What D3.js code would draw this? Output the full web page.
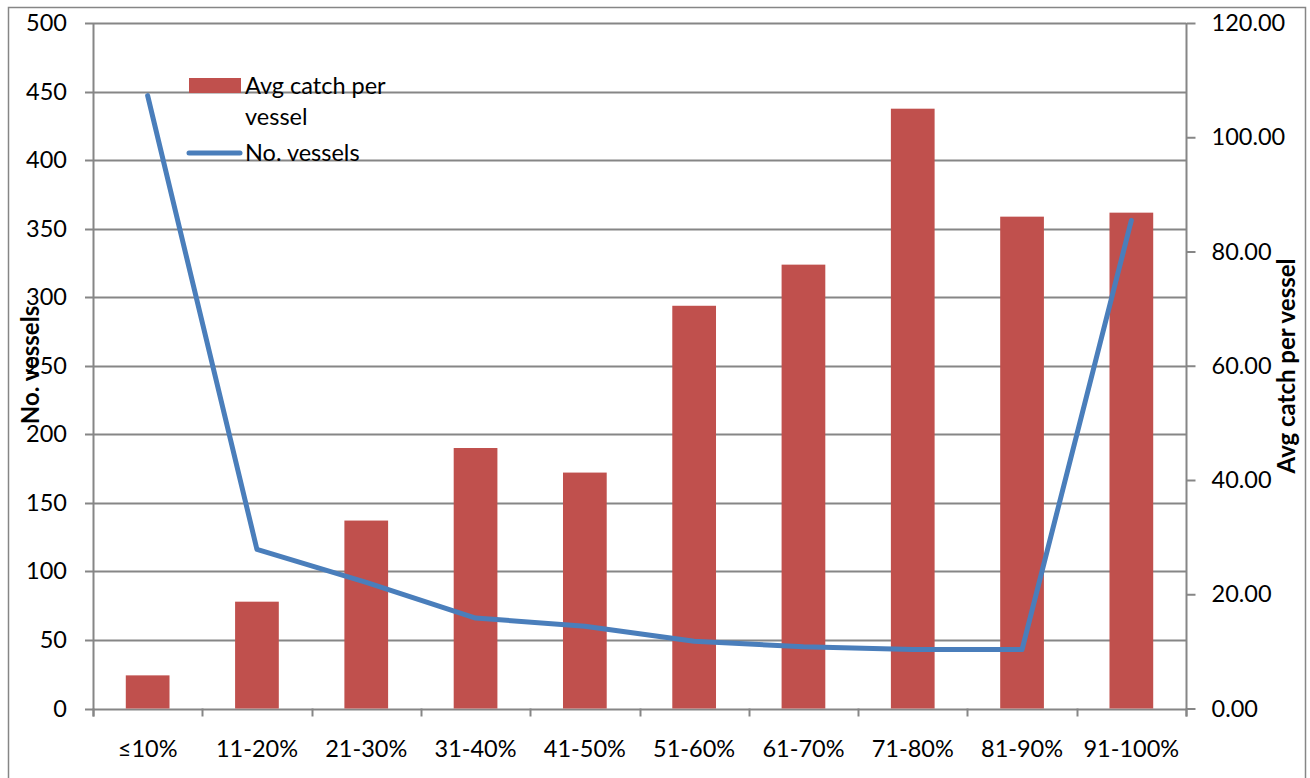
<!DOCTYPE html>
<html>
<head>
<meta charset="utf-8">
<script src="https://cdn.jsdelivr.net/npm/d3@7/dist/d3.min.js"></script>
<style>
  html, body { margin: 0; padding: 0; background: #fff; }
  svg { display: block; font-family: Lato, "Open Sans", sans-serif; }
</style>
</head>
<body>
<svg id="chart" width="1310" height="778"></svg>
<script>
// Fishing effort bands
const categories = ["≤10%", "11-20%", "21-30%", "31-40%", "41-50%", "51-60%", "61-70%", "71-80%", "81-90%", "91-100%"];
// Average catch per vessel (right axis, bars)
const avgCatch = [5.8, 18.7, 32.9, 45.6, 41.3, 70.5, 77.7, 105.0, 86.1, 86.8];
// Number of vessels (left axis, line)
const vessels = [447, 116, 92, 66, 60, 49, 45, 43, 43, 356];
// Axis ticks
const leftTicks = [0, 50, 100, 150, 200, 250, 300, 350, 400, 450, 500];
const rightTicks = [0, 20, 40, 60, 80, 100, 120];

const svg = d3.select("#chart");
const gridColor = "#868686";
const barColor = "#c0504d";
const lineColor = "#4a7ebb";
const fontSize = 23.5;

const plot = { left: 93, right: 1186, top: 23, bottom: 708.5 };

const x = d3.scaleBand().domain(categories).range([plot.left, plot.right]).paddingInner(0.6).paddingOuter(0.3);
const xBand = d3.scaleBand().domain(categories).range([plot.left, plot.right]);
const yLeft = d3.scaleLinear().domain([0, 500]).range([plot.bottom, plot.top]);
const yRight = d3.scaleLinear().domain([0, 120]).range([plot.bottom, plot.top]);

// chart frame
svg.append("rect")
  .attr("x", 8.5).attr("y", 7.5).attr("width", 1297).attr("height", 776)
  .attr("fill", "none").attr("stroke", gridColor).attr("stroke-width", 1.5);

// horizontal gridlines from the left axis
svg.append("g").selectAll("line").data(leftTicks).join("line")
  .attr("x1", plot.left - 8).attr("x2", plot.right)
  .attr("y1", d => Math.round(yLeft(d)) + 0.5).attr("y2", d => Math.round(yLeft(d)) + 0.5)
  .attr("stroke", gridColor).attr("stroke-width", 2);

// left axis labels
const leftAxis = d3.axisLeft(yLeft).tickValues(leftTicks).tickSize(0).tickPadding(26);
const gL = svg.append("g").attr("transform", `translate(${plot.left},0)`).call(leftAxis);
gL.select(".domain").remove();
gL.selectAll("text").attr("font-size", fontSize).attr("fill", "#000").attr("font-family", "Lato, sans-serif");

// bars
svg.append("g").selectAll("rect").data(categories).join("rect")
  .attr("x", d => x(d))
  .attr("width", x.bandwidth())
  .attr("y", (d, i) => yRight(avgCatch[i]))
  .attr("height", (d, i) => plot.bottom - yRight(avgCatch[i]))
  .attr("fill", barColor);

// vertical axes lines
svg.append("line").attr("x1", plot.left + 0.5).attr("x2", plot.left + 0.5)
  .attr("y1", plot.top).attr("y2", plot.bottom + 8)
  .attr("stroke", gridColor).attr("stroke-width", 2);
svg.append("line").attr("x1", plot.right + 0.5).attr("x2", plot.right + 0.5)
  .attr("y1", plot.top).attr("y2", plot.bottom + 8)
  .attr("stroke", gridColor).attr("stroke-width", 2);

// x axis category ticks
const boundaries = categories.map(c => xBand(c)).concat([plot.right]);
svg.append("g").selectAll("line").data(boundaries).join("line")
  .attr("x1", d => Math.round(d) + 0.5).attr("x2", d => Math.round(d) + 0.5)
  .attr("y1", plot.bottom).attr("y2", plot.bottom + 8)
  .attr("stroke", gridColor).attr("stroke-width", 2);

// right axis
const rightAxis = d3.axisRight(yRight).tickValues(rightTicks).tickSize(9).tickPadding(16).tickFormat(d3.format(".2f"));
const gR = svg.append("g").attr("transform", `translate(${plot.right + 0.5},0)`).call(rightAxis);
gR.select(".domain").remove();
gR.selectAll("line").attr("stroke", gridColor).attr("stroke-width", 2);
gR.selectAll("text").attr("font-size", fontSize).attr("fill", "#000").attr("font-family", "Lato, sans-serif");

// x labels
svg.append("g").selectAll("text").data(categories).join("text")
  .attr("x", d => xBand(d) + xBand.bandwidth() / 2)
  .attr("y", 757)
  .attr("text-anchor", "middle")
  .attr("font-size", fontSize)
  .text(d => d);

// vessel count line
const line = d3.line()
  .x((d, i) => xBand(categories[i]) + xBand.bandwidth() / 2)
  .y(d => yLeft(d));
svg.append("path").datum(vessels)
  .attr("d", line)
  .attr("fill", "none")
  .attr("stroke", lineColor)
  .attr("stroke-width", 5)
  .attr("stroke-linejoin", "round")
  .attr("stroke-linecap", "round");

// axis titles
svg.append("text")
  .attr("transform", "translate(39,365) rotate(-90)")
  .attr("text-anchor", "middle")
  .attr("font-size", 24).attr("font-weight", "bold")
  .text("No. vessels");
svg.append("text")
  .attr("transform", "translate(1295,366) rotate(-90)")
  .attr("text-anchor", "middle")
  .attr("font-size", 24).attr("font-weight", "bold")
  .text("Avg catch per vessel");

// legend
const legend = svg.append("g");
legend.append("rect").attr("x", 189).attr("y", 78).attr("width", 52).attr("height", 15).attr("fill", barColor);
legend.append("text").attr("x", 245).attr("y", 94).attr("font-size", fontSize).text("Avg catch per");
legend.append("text").attr("x", 245).attr("y", 125).attr("font-size", fontSize).text("vessel");
legend.append("line").attr("x1", 189).attr("x2", 240).attr("y1", 153).attr("y2", 153)
  .attr("stroke", lineColor).attr("stroke-width", 5).attr("stroke-linecap", "round");
legend.append("text").attr("x", 245).attr("y", 161).attr("font-size", fontSize).text("No. vessels");
</script>
</body>
</html>
